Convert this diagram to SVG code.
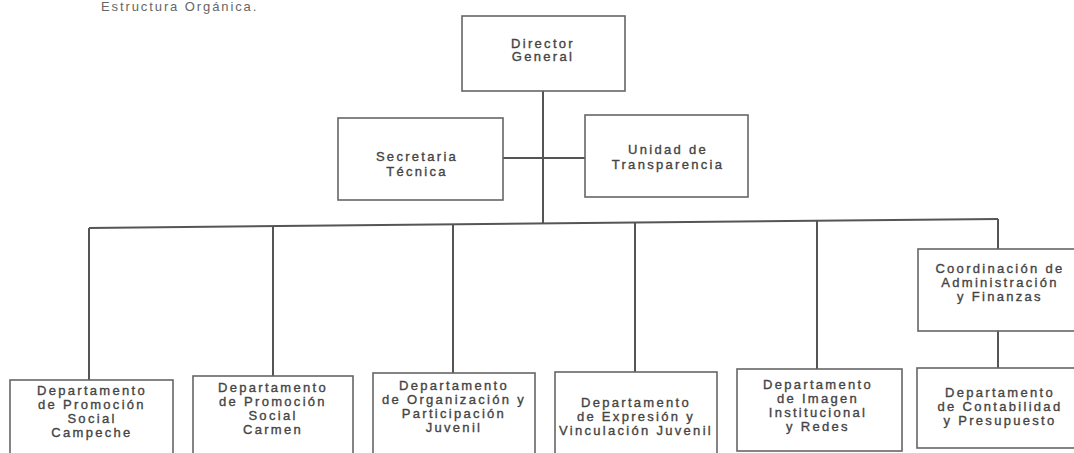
<svg xmlns="http://www.w3.org/2000/svg" width="1074" height="453" viewBox="0 0 1074 453">
<style>
.bg{fill:#ffffff}
.box{fill:#ffffff;stroke:#666;stroke-width:1.6}
.ln{fill:none;stroke:#555;stroke-width:2}
.t{font-family:"Liberation Sans",Arial,sans-serif;font-size:13px;fill:#444;stroke:#444;stroke-width:0.35px;text-anchor:middle;letter-spacing:2.3px}
.title{font-family:"Liberation Sans",Arial,sans-serif;font-size:13px;fill:#666;letter-spacing:1.9px}
</style>
<rect class="bg" x="0" y="0" width="1074" height="453"/>
<text class="title" x="101" y="11">Estructura Orgánica.</text>
<g id="connectors">
<path class="ln" d="M543 91 V223.5"/>
<path class="ln" d="M503 158 H585"/>
<path class="ln" d="M89 228 L998 219"/>
<path class="ln" d="M89 228 V380"/>
<path class="ln" d="M273 226.2 V376"/>
<path class="ln" d="M453 224.4 V373"/>
<path class="ln" d="M635 222.6 V372"/>
<path class="ln" d="M817 220.8 V369"/>
<path class="ln" d="M998 219 V249"/>
<path class="ln" d="M998 331 V368"/>
</g>
<g id="director"><rect class="box" x="462" y="16" width="163" height="75"/><text class="t" x="543" y="48">Director</text><text class="t" x="543" y="61">General</text></g>
<g id="secretaria"><rect class="box" x="338" y="118" width="165" height="82"/><text class="t" x="417" y="161">Secretaria</text><text class="t" x="417" y="176">Técnica</text></g>
<g id="unidad"><rect class="box" x="585" y="115" width="163" height="82"/><text class="t" x="668" y="154">Unidad de</text><text class="t" x="668" y="169">Transparencia</text></g>
<g id="coordinacion"><rect class="box" x="918" y="249" width="160" height="82"/><text class="t" x="1000" y="273">Coordinación de</text><text class="t" x="1000" y="287">Administración</text><text class="t" x="1000" y="301">y Finanzas</text></g>
<g id="campeche"><rect class="box" x="10" y="380" width="163" height="80"/><text class="t" x="92" y="395">Departamento</text><text class="t" x="92" y="409">de Promoción</text><text class="t" x="92" y="423">Social</text><text class="t" x="92" y="437">Campeche</text></g>
<g id="carmen"><rect class="box" x="193" y="376" width="160" height="85"/><text class="t" x="273" y="392">Departamento</text><text class="t" x="273" y="406">de Promoción</text><text class="t" x="273" y="420">Social</text><text class="t" x="273" y="434">Carmen</text></g>
<g id="organizacion"><rect class="box" x="373" y="373" width="162" height="85"/><text class="t" x="454" y="390">Departamento</text><text class="t" x="454" y="404">de Organización y</text><text class="t" x="454" y="418">Participación</text><text class="t" x="454" y="432">Juvenil</text></g>
<g id="expresion"><rect class="box" x="555" y="372" width="162" height="85"/><text class="t" x="636" y="407">Departamento</text><text class="t" x="636" y="421">de Expresión y</text><text class="t" x="636" y="435">Vinculación Juvenil</text></g>
<g id="imagen"><rect class="box" x="737" y="369" width="165" height="82"/><text class="t" x="818" y="389">Departamento</text><text class="t" x="818" y="403">de Imagen</text><text class="t" x="818" y="417">Institucional</text><text class="t" x="818" y="431">y Redes</text></g>
<g id="contabilidad"><rect class="box" x="917" y="368" width="160" height="80"/><text class="t" x="1000" y="397">Departamento</text><text class="t" x="1000" y="411">de Contabilidad</text><text class="t" x="1000" y="425">y Presupuesto</text></g>
</svg>
